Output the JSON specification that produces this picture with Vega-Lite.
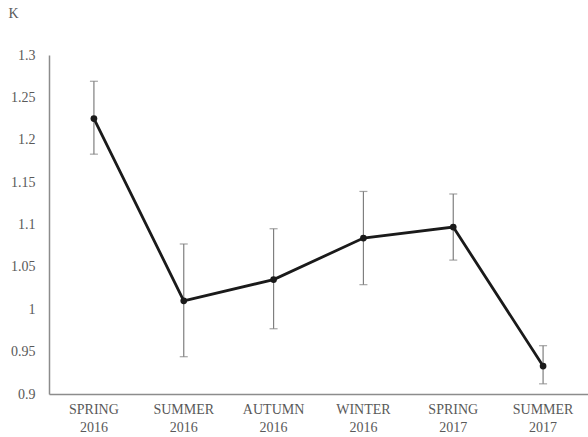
{
  "$schema": "https://vega.github.io/schema/vega-lite/v6.json",
  "width": 539,
  "height": 339,
  "autosize": {"type": "none"},
  "padding": {"left": 49, "top": 55, "right": 0, "bottom": 43},
  "background": "white",
  "config": {
    "view": {"stroke": null},
    "font": "Liberation Serif",
    "axis": {
      "labelFont": "Liberation Serif",
      "titleFont": "Liberation Serif",
      "labelColor": "#595959",
      "titleColor": "#595959",
      "domainColor": "#8c8c8c",
      "domainWidth": 1.5,
      "ticks": false,
      "grid": false
    }
  },
  "data": {
    "values": [
      {"season": "SPRING 2016", "k": 1.225, "lo": 1.183, "hi": 1.269},
      {"season": "SUMMER 2016", "k": 1.01, "lo": 0.944, "hi": 1.077},
      {"season": "AUTUMN 2016", "k": 1.035, "lo": 0.977, "hi": 1.095},
      {"season": "WINTER 2016", "k": 1.084, "lo": 1.029, "hi": 1.139},
      {"season": "SPRING 2017", "k": 1.097, "lo": 1.058, "hi": 1.136},
      {"season": "SUMMER 2017", "k": 0.933, "lo": 0.912, "hi": 0.957}
    ]
  },
  "encoding": {
    "x": {
      "field": "season",
      "type": "nominal",
      "sort": null,
      "scale": {"paddingInner": 0, "paddingOuter": 0},
      "axis": {
        "title": null,
        "labelAngle": 0,
        "labelFontSize": 14,
        "labelPadding": 8,
        "labelLineHeight": 18,
        "labelExpr": "split(datum.label, ' ')"
      }
    }
  },
  "layer": [
    {
      "mark": {"type": "rule", "color": "#7f7f7f", "strokeWidth": 1.2},
      "encoding": {
        "y": {"field": "lo", "type": "quantitative"},
        "y2": {"field": "hi"}
      }
    },
    {
      "mark": {"type": "tick", "color": "#7f7f7f", "size": 8, "thickness": 1.2, "orient": "horizontal"},
      "encoding": {"y": {"field": "lo", "type": "quantitative"}}
    },
    {
      "mark": {"type": "tick", "color": "#7f7f7f", "size": 8, "thickness": 1.2, "orient": "horizontal"},
      "encoding": {"y": {"field": "hi", "type": "quantitative"}}
    },
    {
      "mark": {"type": "line", "color": "#1a1a1a", "strokeWidth": 2.8, "point": {"filled": true, "color": "#1a1a1a", "size": 45}},
      "encoding": {
        "y": {
          "field": "k",
          "type": "quantitative",
          "scale": {"domain": [0.9, 1.3], "nice": false, "zero": false},
          "axis": {
            "title": "K",
            "titleAngle": 0,
            "titleFontSize": 14,
            "titleFontWeight": "normal",
            "titleX": -41,
            "titleY": -35,
            "titleAlign": "left",
            "labelFontSize": 14,
            "labelPadding": 14,
            "tickCount": 8,
            "format": "~g"
          }
        }
      }
    }
  ]
}
